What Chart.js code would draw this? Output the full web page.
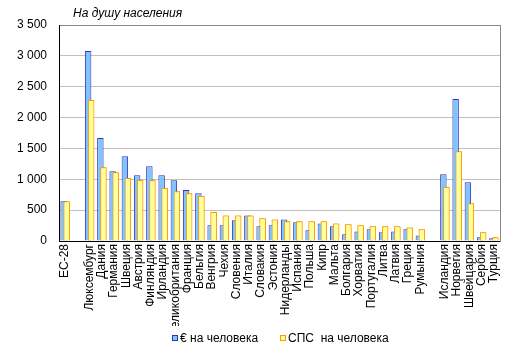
<!DOCTYPE html>
<html>
<head>
<meta charset="utf-8">
<script src="https://cdn.jsdelivr.net/npm/chart.js@4/dist/chart.umd.min.js"></script>
<style>
html, body { margin: 0; padding: 0; background: #ffffff; }
#wrap { width: 514px; height: 353px; position: relative; overflow: hidden; }
#legend { position: absolute; left: 0; top: 332px; width: 514px; height: 14px; }
.lg-item { position: absolute; top: 0; height: 12px; white-space: pre; font: 12px 'Liberation Sans', Arial, sans-serif; line-height: 12px; color: #000; }
.lg-box { position: absolute; left: 0; top: 3px; width: 4px; height: 4px; border: 1px solid #000; }
.lg-text { position: absolute; left: 8px; top: 0; }
</style>
</head>
<body>
<div id="wrap"><canvas id="c" width="514" height="353"></canvas><div id="legend"></div></div>
<script>
const chartTitle = 'На душу населения';

const categories = [
  'ЕС-28', '',
  'Люксембург', 'Дания', 'Германия', 'Швеция', 'Австрия', 'Финляндия', 'Ирландия',
  'Великобритания', 'Франция', 'Бельгия', 'Венгрия', 'Чехия', 'Словения', 'Италия',
  'Словакия', 'Эстония', 'Нидерланды', 'Испания', 'Польша', 'Кипр', 'Мальта',
  'Болгария', 'Хорватия', 'Португалия', 'Литва', 'Латвия', 'Греция', 'Румыния', '',
  'Исландия', 'Норвегия', 'Швейцария', 'Сербия', 'Турция'
];

const euroPerCapita = [
  645, null,
  3080, 1670, 1130, 1375, 1065, 1210, 1065,
  985, 825, 775, 255, 255, 335, 415,
  240, 255, 350, 305, 175, 285, 240,
  110, 155, 190, 140, 155, 190, 90, null,
  1080, 2300, 950, 60, 45
];

const ppsPerCapita = [
  645, null,
  2285, 1195, 1115, 1020, 990, 985, 860,
  805, 775, 730, 470, 415, 415, 415,
  370, 350, 320, 320, 320, 320, 285,
  270, 255, 240, 240, 240, 220, 190, null,
  875, 1455, 610, 140, 60
];

const seriesNames = ['€ на человека', 'СПС  на человека'];
const yMax = 3500;
const yStep = 500;

const FONT = "'Liberation Sans', Arial, sans-serif";
Chart.defaults.font.family = FONT;
Chart.defaults.font.size = 12;
Chart.defaults.color = '#000000';

const cornerTitle = {
  id: 'cornerTitle',
  afterDraw(chart) {
    const { ctx, chartArea } = chart;
    ctx.save();
    ctx.font = 'italic 12px ' + FONT;
    ctx.fillStyle = '#000000';
    ctx.textAlign = 'left';
    ctx.textBaseline = 'middle';
    ctx.fillText(chartTitle, chartArea.left + 14, 14);
    ctx.restore();
  }
};

const secondOnTop = {
  id: 'secondOnTop',
  afterDatasetsDraw(chart) {
    const meta = chart.getDatasetMeta(1);
    if (meta && meta.visible !== false) meta.controller.draw();
  }
};

const legendLefts = [172, 280];
const htmlLegend = {
  id: 'htmlLegend',
  afterUpdate(chart) {
    const host = document.getElementById('legend');
    host.innerHTML = '';
    const items = chart.options.plugins.legend.labels.generateLabels(chart);
    items.forEach((item, i) => {
      const el = document.createElement('div');
      el.className = 'lg-item';
      el.style.left = legendLefts[i] + 'px';
      const box = document.createElement('span');
      box.className = 'lg-box';
      box.style.background = item.fillStyle;
      box.style.borderColor = item.strokeStyle;
      const txt = document.createElement('span');
      txt.className = 'lg-text';
      txt.textContent = item.text;
      el.appendChild(box);
      el.appendChild(txt);
      host.appendChild(el);
    });
  }
};

const fmt = v => String(v).replace(/\B(?=(\d{3})+(?!\d))/g, ' ');

new Chart(document.getElementById('c'), {
  type: 'bar',
  data: {
    labels: categories,
    datasets: [
      {
        label: seriesNames[0],
        data: euroPerCapita,
        backgroundColor: '#80c4ff',
        borderColor: '#3333aa',
        borderWidth: 1,
        categoryPercentage: 0.49,
        barPercentage: 2.15
      },
      {
        label: seriesNames[1],
        data: ppsPerCapita,
        backgroundColor: '#ffff99',
        borderColor: '#ff9900',
        borderWidth: 1,
        categoryPercentage: 0.49,
        barPercentage: 2.15
      }
    ]
  },
  options: {
    responsive: false,
    devicePixelRatio: 1,
    animation: false,
    layout: { padding: { left: 0, right: 0, top: 25, bottom: 27 } },
    plugins: {
      title: { display: false },
      tooltip: { enabled: false },
      legend: { display: false }
    },
    scales: {
      x: {
        offset: true,
        grid: { display: false, drawTicks: false },
        border: { display: true, color: '#000000', width: 1 },
        ticks: {
          autoSkip: false,
          maxRotation: 90,
          minRotation: 90,
          padding: 3,
          font: { size: 12, family: FONT },
          color: '#000000'
        },
        afterFit(scale) { scale.height = 85; }
      },
      y: {
        min: 0,
        max: yMax,
        grid: {
          drawTicks: false,
          color: ctx => (ctx.tick && ctx.tick.value === yMax) ? '#888888' : '#c0c0c0',
          lineWidth: 1
        },
        border: { display: true, color: '#000000', width: 1 },
        ticks: {
          stepSize: yStep,
          padding: 12,
          font: { size: 12, family: FONT },
          color: '#000000',
          callback: v => fmt(v)
        },
        afterFit(scale) { scale.width = 59; }
      },
      y2: {
        position: 'right',
        min: 0,
        max: yMax,
        grid: { display: false, drawTicks: false },
        border: { display: true, color: '#888888', width: 1 },
        ticks: { display: false },
        afterFit(scale) { scale.width = 14; }
      }
    }
  },
  plugins: [cornerTitle, secondOnTop, htmlLegend]
});
</script>
</body>
</html>
